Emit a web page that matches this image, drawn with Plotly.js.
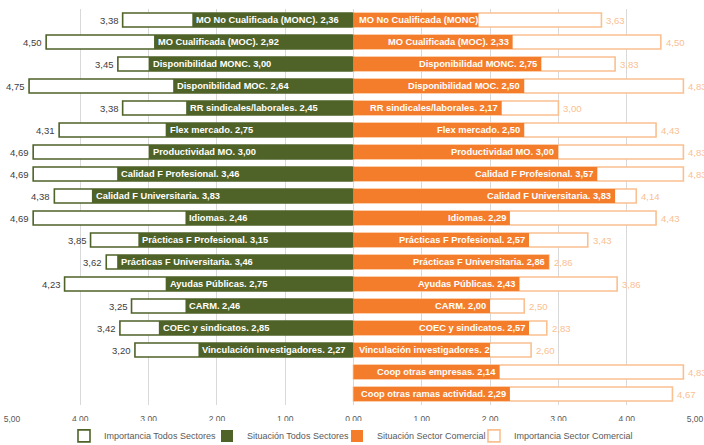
<!DOCTYPE html>
<html><head><meta charset="utf-8">
<script src="https://cdn.plot.ly/plotly-3.0.1.min.js"></script>
<style>html,body{margin:0;padding:0;background:#fff}#chart{width:704px;height:445px}</style>
</head><body><div id="chart"></div>
<script>
const categories = [
  'MO No Cualificada (MONC)', 'MO Cualificada (MOC)', 'Disponibilidad MONC', 'Disponibilidad MOC',
  'RR sindicales/laborales', 'Flex mercado', 'Productividad MO', 'Calidad F Profesional',
  'Calidad F Universitaria', 'Idiomas', 'Prácticas F Profesional', 'Prácticas F Universitaria',
  'Ayudas Públicas', 'CARM', 'COEC y sindicatos', 'Vinculación investigadores',
  'Coop otras empresas', 'Coop otras ramas actividad'
];
const impTodos = [3.38, 4.50, 3.45, 4.75, 3.38, 4.31, 4.69, 4.69, 4.38, 4.69, 3.85, 3.62, 4.23, 3.25, 3.42, 3.20, null, null];
const sitTodos = [2.36, 2.92, 3.00, 2.64, 2.45, 2.75, 3.00, 3.46, 3.83, 2.46, 3.15, 3.46, 2.75, 2.46, 2.85, 2.27, null, null];
const sitCom   = [1.83, 2.33, 2.75, 2.50, 2.17, 2.50, 3.00, 3.57, 3.83, 2.29, 2.57, 2.86, 2.43, 2.00, 2.57, 2.00, 2.14, 2.29];
const impCom   = [3.63, 4.50, 3.83, 4.83, 3.00, 4.43, 4.83, 4.83, 4.14, 4.43, 3.43, 2.86, 3.86, 2.50, 2.83, 2.60, 4.83, 4.67];
const tickVals = [-5, -4, -3, -2, -1, 0, 1, 2, 3, 4, 5];

const FONT = '"Liberation Sans", Arial, sans-serif';
const GREEN = '#4F6228', ORANGE = '#F47D2C', LORANGE = '#FAC090';
const LBL = 9.3;
const fmt = v => v.toFixed(2).replace('.', ',');
const W = 704, H = 445;
const margin = {l: 12, r: 9, t: 9, b: 40, pad: 0, autoexpand: false};
const pxPerUnit = (W - margin.l - margin.r) / 10;
const ctx = document.createElement('canvas').getContext('2d');
function textW(s, size, bold) { ctx.font = (bold ? 'bold ' : '') + size + 'px ' + FONT; return ctx.measureText(s).width; }
const neg = a => a.map(v => v == null ? null : -v);

const common = {type: 'bar', orientation: 'h', y: categories, hoverinfo: 'skip'};
const traces = [
  Object.assign({}, common, {name: 'Importancia Todos Sectores', x: neg(impTodos), legendrank: 1, legendwidth: 98,
    marker: {color: '#FFFFFF', line: {color: GREEN, width: 1.6}}}),
  Object.assign({}, common, {name: 'Importancia Sector Comercial', x: impCom, legendrank: 4, legendwidth: 120,
    marker: {color: '#FFFFFF', line: {color: LORANGE, width: 1.6}}}),
  Object.assign({}, common, {name: 'Situación Todos Sectores', x: neg(sitTodos), legendrank: 2, legendwidth: 85,
    marker: {color: GREEN, line: {width: 0}}}),
  Object.assign({}, common, {name: 'Situación Sector Comercial', x: sitCom, legendrank: 3, legendwidth: 92,
    marker: {color: ORANGE, line: {width: 0}}})
];

const annotations = [];
categories.forEach((c, i) => {
  if (sitTodos[i] != null) {
    annotations.push({x: -sitTodos[i], y: c, xref: 'x', yref: 'y', text: '<b>' + c + '. ' + fmt(sitTodos[i]) + '</b>',
      xanchor: 'left', xshift: 2, showarrow: false, font: {family: FONT, size: LBL, color: '#FFFFFF'}});
  }
  if (impTodos[i] != null) {
    annotations.push({x: -impTodos[i], y: c, xref: 'x', yref: 'y', text: fmt(impTodos[i]),
      xanchor: 'right', xshift: -2, showarrow: false, font: {family: FONT, size: 9.5, color: '#404040'}});
  }
  const lbl = c + '. ' + fmt(sitCom[i]);
  const fits = textW(lbl, LBL, true) + 6 <= sitCom[i] * pxPerUnit;
  annotations.push({x: fits ? sitCom[i] : 0, y: c, xref: 'x', yref: 'y', text: '<b>' + lbl + '</b>',
    xanchor: fits ? 'right' : 'left', xshift: fits ? -2 : 3, showarrow: false,
    font: {family: FONT, size: LBL, color: '#FFFFFF'}});
  annotations.push({x: impCom[i], y: c, xref: 'x', yref: 'y', text: fmt(impCom[i]),
    xanchor: 'left', xshift: 3, showarrow: false, font: {family: FONT, size: 9.5, color: LORANGE}});
});

const layout = {
  width: W, height: H, margin: margin,
  paper_bgcolor: '#FFFFFF', plot_bgcolor: '#FFFFFF',
  font: {family: FONT, size: 9, color: '#595959'},
  barmode: 'overlay', bargap: 0.36,
  showlegend: true,
  legend: {orientation: 'h', x: (64 - 12) / 683, xanchor: 'left', y: -0.078, yanchor: 'middle',
    font: {family: FONT, size: 9, color: '#595959'}, itemwidth: 30, tracegroupgap: 0},
  xaxis: {range: [-5, 5], tickvals: tickVals, ticktext: tickVals.map(v => fmt(Math.abs(v))),
    showgrid: true, gridcolor: '#D9D9D9', gridwidth: 1, zeroline: false, showline: false, ticks: '',
    ticklabelstandoff: 7,
    tickfont: {family: FONT, size: 8.5, color: '#595959'}, fixedrange: true},
  yaxis: {type: 'category', autorange: 'reversed', showticklabels: false, showgrid: false,
    zeroline: false, showline: false, ticks: '', fixedrange: true},
  annotations: annotations
};

Plotly.newPlot('chart', traces, layout, {displayModeBar: false, staticPlot: true});
</script>
</body></html>
